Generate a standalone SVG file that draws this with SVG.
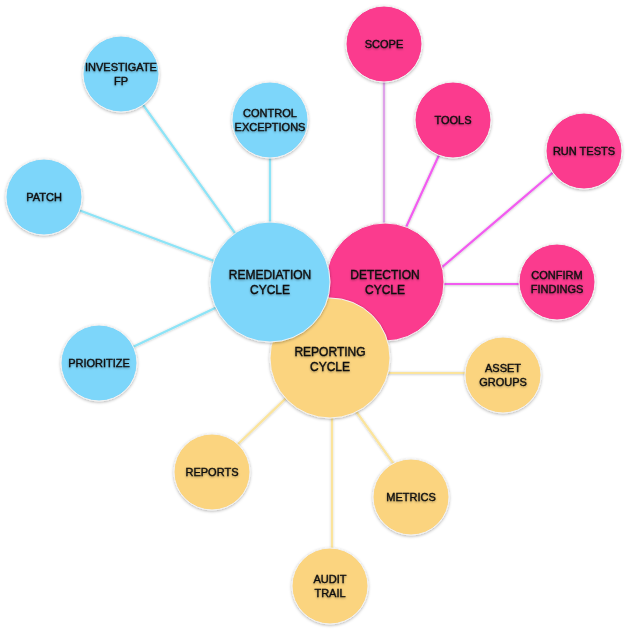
<svg xmlns="http://www.w3.org/2000/svg" width="631" height="633" viewBox="0 0 631 633">
  <defs>
    <filter id="sh" x="-30%" y="-30%" width="160%" height="160%">
      <feDropShadow dx="0" dy="1" stdDeviation="1.6" flood-color="#000" flood-opacity="0.3"/>
    </filter>
    <filter id="lsh" filterUnits="userSpaceOnUse" x="0" y="0" width="631" height="633">
      <feDropShadow dx="0" dy="0.5" stdDeviation="0.8" flood-color="#000" flood-opacity="0.25"/>
    </filter>
    <filter id="tsh" x="-10%" y="-30%" width="120%" height="160%">
      <feDropShadow dx="0" dy="1" stdDeviation="1" flood-color="#000" flood-opacity="0.35"/>
    </filter>
    <style>
      .blue{fill:#7dd6fa}
      .pink{fill:#fb3a8e}
      .yel{fill:#fbd47f}
      circle{stroke:#f2f2f2;stroke-width:1;filter:url(#sh)}
      .lb{stroke:#8de4f7}
      .lp{stroke:#f25cf0}
      .ls{stroke:#dea2e9}
      .ly{stroke:#fbe49c}
      line{stroke-width:2.2;filter:url(#lsh);stroke-linecap:round}
      text{font-family:"Liberation Sans",Arial,sans-serif;fill:#111;text-anchor:middle;stroke:#111;stroke-width:0.4;filter:url(#tsh)}
      .s{font-size:11px}
      .b{font-size:12px}
    </style>
  </defs>
  <rect width="631" height="633" fill="#ffffff"/>
  <g id="connectors">
    <line class="lb" x1="121" y1="74" x2="270" y2="282"/>
    <line class="lb" x1="270" y1="120" x2="270" y2="282"/>
    <line class="lb" x1="44" y1="197" x2="270" y2="282"/>
    <line class="lb" x1="99" y1="363" x2="270" y2="282"/>
    <line class="ls" x1="384" y1="44" x2="384" y2="282"/>
    <line class="lp" x1="455" y1="120" x2="381" y2="282"/>
    <line class="lp" x1="584" y1="146" x2="400" y2="303"/>
    <line class="lp" x1="385" y1="284" x2="557" y2="284"/>
    <line class="ly" x1="330" y1="373" x2="503" y2="373"/>
    <line class="ly" x1="330" y1="375" x2="411" y2="488"/>
    <line class="ly" x1="332" y1="358" x2="332" y2="586"/>
    <line class="ly" x1="212" y1="469" x2="330" y2="356"/>
  </g>
  <g id="investigate-fp"><circle class="blue" cx="121" cy="74" r="38"/><text class="s" x="121" y="71">INVESTIGATE</text><text class="s" x="121" y="85">FP</text></g>
  <g id="control-exceptions"><circle class="blue" cx="270" cy="120" r="38"/><text class="s" x="270" y="117">CONTROL</text><text class="s" x="270" y="131">EXCEPTIONS</text></g>
  <g id="patch"><circle class="blue" cx="44" cy="197" r="38"/><text class="s" x="44" y="201">PATCH</text></g>
  <g id="prioritize"><circle class="blue" cx="99" cy="363" r="38"/><text class="s" x="99" y="367">PRIORITIZE</text></g>
  <g id="scope"><circle class="pink" cx="384" cy="44" r="38"/><text class="s" x="384" y="48">SCOPE</text></g>
  <g id="tools"><circle class="pink" cx="453" cy="120" r="38"/><text class="s" x="453" y="124">TOOLS</text></g>
  <g id="run-tests"><circle class="pink" cx="584" cy="151" r="38"/><text class="s" x="584" y="155">RUN TESTS</text></g>
  <g id="confirm-findings"><circle class="pink" cx="557" cy="282" r="38"/><text class="s" x="557" y="279">CONFIRM</text><text class="s" x="557" y="293">FINDINGS</text></g>
  <g id="asset-groups"><circle class="yel" cx="503" cy="375" r="38"/><text class="s" x="503" y="372">ASSET</text><text class="s" x="503" y="386">GROUPS</text></g>
  <g id="reports"><circle class="yel" cx="212" cy="472" r="38"/><text class="s" x="212" y="476">REPORTS</text></g>
  <g id="metrics"><circle class="yel" cx="411" cy="497" r="38"/><text class="s" x="411" y="501">METRICS</text></g>
  <g id="audit-trail"><circle class="yel" cx="330" cy="586" r="38"/><text class="s" x="330" y="583">AUDIT</text><text class="s" x="330" y="597">TRAIL</text></g>
  <g id="detection-cycle"><circle class="pink" cx="385" cy="282" r="59"/><text class="b" x="385" y="279">DETECTION</text><text class="b" x="385" y="294">CYCLE</text></g>
  <g id="reporting-cycle"><circle class="yel" cx="330" cy="358" r="60"/><text class="b" x="330" y="356">REPORTING</text><text class="b" x="330" y="371">CYCLE</text></g>
  <g id="remediation-cycle"><circle class="blue" cx="270" cy="282" r="60"/><text class="b" x="270" y="279">REMEDIATION</text><text class="b" x="270" y="294">CYCLE</text></g>
</svg>
